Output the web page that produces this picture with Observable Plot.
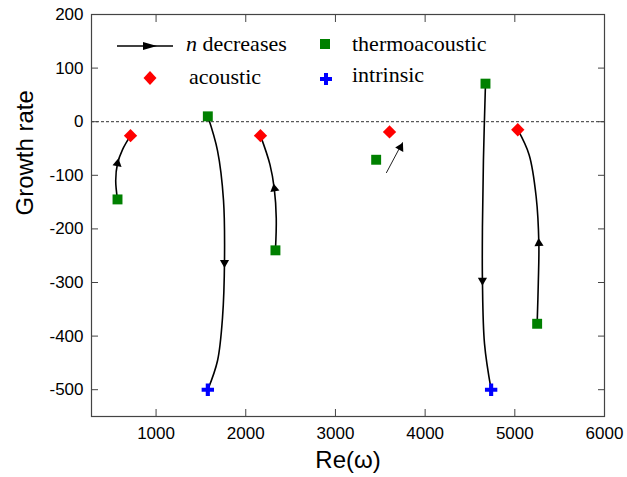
<!DOCTYPE html>
<html><head><meta charset="utf-8">
<script src="https://cdn.jsdelivr.net/npm/d3@7"></script>
<script src="https://cdn.jsdelivr.net/npm/@observablehq/plot@0.6"></script>
<style>
body{margin:0;background:#fff;}
#wrap{position:relative;width:627px;height:477px;}
#legend{position:absolute;left:0;top:0;pointer-events:none;}
</style></head><body>
<div id="wrap"></div>
<script>
// ---- data ----
const xTicks = [1000, 2000, 3000, 4000, 5000, 6000];
const yTicks = [-500, -400, -300, -200, -100, 0, 100, 200];

const thermoX = [570, 1577, 2331, 3454, 4673, 5249];
const thermoY = [-145, 10, -240, -71, 71, -377];

const acousticX = [715, 2164, 3603, 5033];
const acousticY = [-26, -26, -19, -15];

const intrinsicX = [1577, 4736];
const intrinsicY = [-500, -500];

// trajectories as n decreases
const branchA = [[570,-145],[550,-110],[570,-78],[626,-52],[715,-26]];
const branchB = [[1577,10],[1685,-54],[1752,-147],[1763,-259],[1741,-365],[1685,-446],[1577,-500]];
const branchC = [[2331,-240],[2340,-180],[2318,-125],[2270,-80],[2164,-26]];
const branchD = [[3569,-95],[3747,-39]];
const branchE = [[4673,71],[4650,-72],[4639,-197],[4639,-296],[4662,-414],[4736,-500]];
const branchF = [[5249,-377],[5262,-300],[5268,-227],[5238,-140],[5160,-62],[5033,-15]];

const arrowX = [570, 1763, 2320, 3725, 4639, 5268];
const arrowY = [-78, -263, -125, -48, -296, -227];
const arrowAngle = [10, 180, -10, 28, 180, -3];

// ---- build tables ----
const thermo = thermoX.map((x, i) => ({x, y: thermoY[i]}));
const acoustic = acousticX.map((x, i) => ({x, y: acousticY[i]}));
const intrinsic = intrinsicX.map((x, i) => ({x, y: intrinsicY[i]}));
const branches = [branchA, branchB, branchC, branchE, branchF];
const arrows = arrowX.map((x, i) => ({x, y: arrowY[i], a: arrowAngle[i]}));

const axisColor = "#444";
const font = "'Liberation Sans', Arial, sans-serif";

const chart = Plot.plot({
  width: 627,
  height: 477,
  marginLeft: 91,
  marginRight: 23,
  marginTop: 14,
  marginBottom: 61,
  style: {fontFamily: font, fontSize: "17px", color: "black", background: "white"},
  x: {domain: [280, 6000]},
  y: {domain: [-550, 200]},
  marks: [
    Plot.ruleY([0], {stroke: "#333", strokeWidth: 1, strokeDasharray: "3,2"}),
    ...branches.map(b => Plot.line(b, {x: d => d[0], y: d => d[1], curve: "catmull-rom", stroke: "black", strokeWidth: 1.6})),
    Plot.line(branchD, {x: d => d[0], y: d => d[1], stroke: "#222", strokeWidth: 1}),
    Plot.dot(arrows, {x: "x", y: "y", rotate: "a", symbol: "triangle", r: 3.4, fill: "black", stroke: "none"}),
    Plot.dot(thermo, {x: "x", y: "y", symbol: "square", r: 5.6, fill: "#008000", stroke: "none"}),
    Plot.dot(acoustic, {x: "x", y: "y", symbol: "diamond2", r: 6, fill: "#ff0000", stroke: "none"}),
    Plot.dot(intrinsic, {x: "x", y: "y", symbol: "cross", r: 5.2, fill: "#0000ff", stroke: "none"}),
    // inward ticks on all four sides
    Plot.axisX({ticks: xTicks, anchor: "bottom", tickSize: -7, tickFormat: () => "", label: null, stroke: axisColor}),
    Plot.axisX({ticks: xTicks, anchor: "top", tickSize: -7, tickFormat: () => "", label: null, stroke: axisColor}),
    Plot.axisY({ticks: yTicks, anchor: "left", tickSize: -7, tickFormat: () => "", label: null, stroke: axisColor}),
    Plot.axisY({ticks: yTicks, anchor: "right", tickSize: -7, tickFormat: () => "", label: null, stroke: axisColor}),
    // tick labels
    Plot.axisX({ticks: xTicks, anchor: "bottom", tickSize: 0, tickPadding: 10, tickFormat: d => String(d), label: null, fontSize: 17, fill: "black"}),
    Plot.axisY({ticks: yTicks, anchor: "left", tickSize: 0, tickPadding: 8, tickFormat: d => String(d), label: null, fontSize: 17, fill: "black"}),
    Plot.frame({stroke: axisColor, strokeWidth: 1.2}),
    // axis titles
    Plot.text(["Growth rate"], {frameAnchor: "left", rotate: -90, dx: -66, text: d => d, fontSize: 24, fill: "black"}),
    Plot.text(["Re(ω)"], {frameAnchor: "bottom", dy: 44, text: d => d, fontSize: 24, fill: "black", lineAnchor: "middle"})
  ]
});

const wrap = document.getElementById("wrap");
wrap.appendChild(chart);

// legend overlay inside the plot area
const legend = `
<svg id="legend" width="627" height="477" xmlns="http://www.w3.org/2000/svg" font-family="'Liberation Serif', 'Times New Roman', serif" font-size="22">
  <line x1="117" y1="46" x2="173" y2="46" stroke="black" stroke-width="1.6"/>
  <polygon points="143,42 157,46 143,50" fill="black"/>
  <text x="186" y="51"><tspan font-style="italic">n</tspan> decreases</text>
  <rect x="320" y="39" width="10" height="10" fill="#008000"/>
  <text x="352" y="51">thermoacoustic</text>
  <polygon points="150,71 156.5,78 150,85 143.5,78" fill="#ff0000"/>
  <text x="189" y="84">acoustic</text>
  <path d="M324,73h4v4h4v4h-4v4h-4v-4h-4v-4h4z" fill="#0000ff"/>
  <text x="352" y="82">intrinsic</text>
</svg>`;
wrap.insertAdjacentHTML("beforeend", legend);
</script>
</body></html>
